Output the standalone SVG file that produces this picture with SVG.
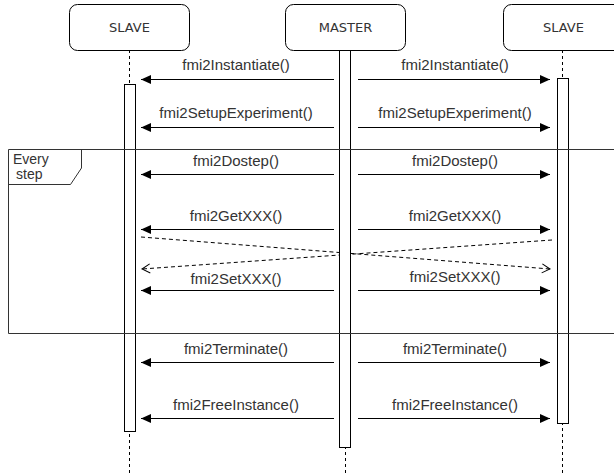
<svg xmlns="http://www.w3.org/2000/svg" width="614" height="476" viewBox="0 0 614 476">
  <style>
    .head { fill: #ffffff; stroke: #000000; stroke-width: 1; }
    .headtxt { font-family: "DejaVu Sans", "Liberation Sans", sans-serif; font-size: 13px; fill: #333333; text-anchor: middle; }
    .life { stroke: #000000; stroke-width: 1; stroke-dasharray: 3 3; fill: none; }
    .bar { fill: #ffffff; stroke: #000000; stroke-width: 1; }
    .msg { stroke: #000000; stroke-width: 1; fill: none; marker-end: url(#solid); }
    .ret { stroke: #000000; stroke-width: 1; fill: none; stroke-dasharray: 4 3; marker-end: url(#open); }
    .lbl { font-family: "Liberation Sans", Arial, sans-serif; font-size: 15px; fill: #333333; text-anchor: middle; }
    .frame { fill: none; stroke: #333333; stroke-width: 1; }
    .ftxt { font-family: "Liberation Sans", Arial, sans-serif; font-size: 14px; fill: #333333; }
  </style>
  <defs>
    <marker id="solid" markerUnits="userSpaceOnUse" markerWidth="12" markerHeight="10" refX="10" refY="4.5" orient="auto">
      <path d="M0,0 L10,4.5 L0,9 Z" fill="#000000"/>
    </marker>
    <marker id="open" markerUnits="userSpaceOnUse" markerWidth="12" markerHeight="12" refX="9" refY="5.5" orient="auto">
      <path d="M1,1 L9,5.5 L1,10" fill="none" stroke="#000000" stroke-width="1"/>
    </marker>
  </defs>
  <rect width="614" height="476" fill="#ffffff"/>

  <g id="lifelines">
    <line class="life" x1="129.5" y1="50" x2="129.5" y2="476"/>
    <line class="life" x1="345.5" y1="50" x2="345.5" y2="476"/>
    <line class="life" x1="562.5" y1="50" x2="562.5" y2="476"/>
  </g>

  <g id="connectors">
    <path class="msg" d="M334,79.5 H141"/>
    <path class="msg" d="M358,79.5 H550"/>
    <path class="msg" d="M334,127.5 H141"/>
    <path class="msg" d="M358,127.5 H550"/>
    <path class="msg" d="M334,174.5 H141"/>
    <path class="msg" d="M358,174.5 H550"/>
    <path class="msg" d="M334,229.5 H141"/>
    <path class="msg" d="M358,229.5 H550"/>
    <path class="ret" d="M141,237 L550,269"/>
    <path class="ret" d="M552,240 L142,269"/>
    <path class="msg" d="M334,290.5 H141"/>
    <path class="msg" d="M358,290.5 H550"/>
    <path class="msg" d="M334,362.5 H141"/>
    <path class="msg" d="M358,362.5 H550"/>
    <path class="msg" d="M334,418.5 H141"/>
    <path class="msg" d="M358,418.5 H550"/>
    <text class="lbl" x="236" y="70">fmi2Instantiate()</text>
    <text class="lbl" x="455" y="70">fmi2Instantiate()</text>
    <text class="lbl" x="236" y="118">fmi2SetupExperiment()</text>
    <text class="lbl" x="455" y="118">fmi2SetupExperiment()</text>
    <text class="lbl" x="236" y="166">fmi2Dostep()</text>
    <text class="lbl" x="455" y="166">fmi2Dostep()</text>
    <text class="lbl" x="236" y="221">fmi2GetXXX()</text>
    <text class="lbl" x="455" y="221">fmi2GetXXX()</text>
    <text class="lbl" x="236" y="284">fmi2SetXXX()</text>
    <text class="lbl" x="455" y="282">fmi2SetXXX()</text>
    <text class="lbl" x="236" y="354">fmi2Terminate()</text>
    <text class="lbl" x="455" y="354">fmi2Terminate()</text>
    <text class="lbl" x="236" y="410">fmi2FreeInstance()</text>
    <text class="lbl" x="455" y="410">fmi2FreeInstance()</text>
  </g>

  <g id="slave-left">
    <rect class="head" x="69.5" y="4.5" width="120" height="46" rx="8"/>
    <text class="headtxt" x="129.5" y="32">SLAVE</text>
    <rect class="bar" x="124.5" y="84.5" width="11" height="347"/>
  </g>

  <g id="master">
    <rect class="head" x="285.5" y="4.5" width="120" height="46" rx="8"/>
    <text class="headtxt" x="345.5" y="32">MASTER</text>
    <rect class="bar" x="339.5" y="50.5" width="11" height="397"/>
  </g>

  <g id="slave-right">
    <rect class="head" x="503.5" y="4.5" width="120" height="46" rx="8"/>
    <text class="headtxt" x="563.5" y="32">SLAVE</text>
    <rect class="bar" x="557.5" y="78.5" width="11" height="345"/>
  </g>

  <g id="frame-every-step">
    <path class="frame" d="M615,149.5 H8.5 V333.5 H615"/>
    <path class="frame" d="M8.5,184.5 H70.5 L81.5,168 V149.5"/>
    <text class="ftxt" x="13" y="164">Every</text>
    <text class="ftxt" x="16" y="179">step</text>
  </g>
</svg>
